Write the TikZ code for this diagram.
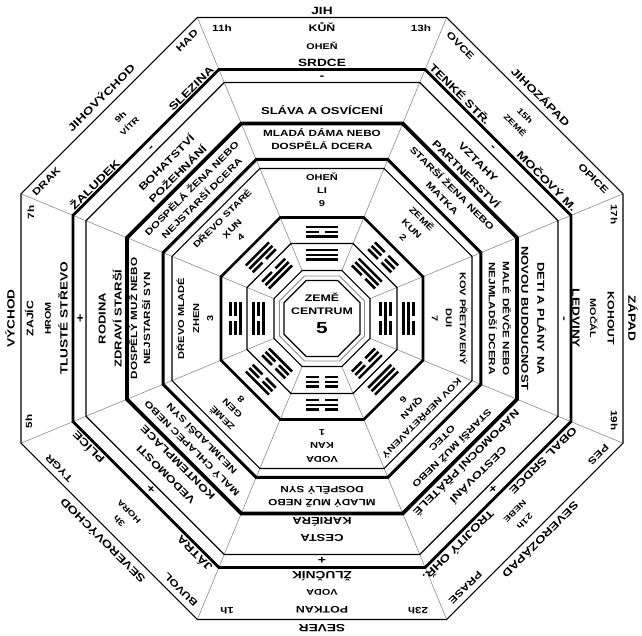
\documentclass[tikz,border=0pt]{standalone}
\usepackage{fontspec}
\newfontfamily\lab{Liberation Sans}[FakeStretch=1.3]
\newcommand\fs[1]{\lab\bfseries\fontsize{#1}{#1}\selectfont}
\newcommand\myocta[2][]{\draw[#1] (22.5:{#2*1.0823922}) \foreach \j in {1,...,7}{ -- ({22.5+45*\j}:{#2*1.0823922})} -- cycle;}
\newcommand\trg[4]{%
  \foreach \b [count=\i] in {#2,#3,#4} {%
    \pgfmathsetmacro\yy{#1+(\i-2)*4.8}%
    \ifnum\b=1 \draw[tline] (-16.3,\yy) -- (16.3,\yy);%
    \else \draw[tline] (-16.3,\yy) -- (-2.6,\yy) (2.6,\yy) -- (16.3,\yy);\fi
  }}
\tikzset{
 lb/.style={inner sep=0pt, text depth=0pt},
 tdir/.style={lb, font=\fs{10.5}, text height=7.5pt},
 tani/.style={lb, font=\fs{9.5}, text height=6.8pt},
 thr/.style={lb, font=\fs{9}, text height=6.4pt},
 thd/.style={lb, font=\fs{8.3}, text height=5.9pt},
 tel/.style={lb, font=\fs{8.3}, text height=5.9pt},
 ted/.style={lb, font=\fs{7.8}, text height=5.6pt},
 torg/.style={lb, font=\fs{10.5}, text height=7.5pt},
 tasp/.style={lb, font=\fs{10}, text height=7.2pt},
 tfam/.style={lb, font=\fs{9}, text height=6.4pt},
 tinn/.style={lb, font=\fs{8.5}, text height=6.1pt},
 tmin/.style={lb, font=\fs{11}, text height=5.9pt},
 tplus/.style={lb, font=\fs{11}, text height=7.7pt},
 tline/.style={line width=2.6pt},
 rad/.style={black!45, line width=0.6pt},
}
\begin{document}
\begin{tikzpicture}[x=1pt,y=1pt]
\useasboundingbox (-322,-317.5) rectangle (320,318.5);
\fill[white] (-322,-317.5) rectangle (320,318.5);
% radial dividers
\foreach \i in {0,...,7} \draw[rad] ({22.5+45*\i}:{48*1.0823922}) -- ({22.5+45*\i}:{301*1.0823922});
% rings
\myocta[line width=1.1pt]{301}
\myocta[line width=2.8pt]{249}
\myocta[line width=1.1pt]{236}
\myocta[line width=3.8pt]{195}
\myocta[line width=3pt]{159}
\myocta[line width=1.1pt]{150}
\myocta[line width=2.6pt]{101}
\myocta[line width=1.2pt]{75}
\myocta[line width=1.2pt]{48}
\myocta[black!45, line width=0.9pt]{42.5}
\myocta[line width=1.3pt]{38}
% centre
\node[lb, font=\fs{9.5}, text height=6.8pt] (c1) at (0,20.5) {ZEMĚ};
\node[lb, font=\fs{9.5}, text height=6.8pt] (c2) at (0,7.5) {CENTRUM};
\node[lb, font=\fs{16}, text height=11.5pt] (c3) at (0,-9) {5};
% sector 0 : south (top)
\begin{scope}[rotate=0, transform shape]
\node[tdir] (s0d) at (0,308) {JIH};
\node[thr] (s0h1) at (-100,290) {11h};
\node[thr] (s0h2) at (99,290) {13h};
\node[tani] (s0a) at (0,290) {KŮŇ};
\node[tel] (s0e) at (0,272) {OHEŇ};
\node[torg] (s0o) at (0,256) {SRDCE};
\node[tmin] (s0s) at (0,242) {-};
\node[tasp] (s0p) at (0,208) {SLÁVA A OSVÍCENÍ};
\node[tfam] (s0f1) at (0,185) {MLADÁ DÁMA NEBO};
\node[tfam] (s0f2) at (0,172) {DOSPĚLÁ DCERA};
\node[tinn] (s0i1) at (0,141) {OHEŇ};
\node[tinn] (s0i2) at (0,128) {LI};
\node[tinn] (s0i3) at (0,115) {9};
\trg{86.5}{1}{0}{1}
\trg{63.5}{1}{1}{1}
\end{scope}
% sector 1 : south-west (top right)
\begin{scope}[rotate=-45, transform shape]
\node[tdir] (s1d) at (-2,311) {JIHOZÁPAD};
\node[tani] (s1a1) at (-95,291) {OVCE};
\node[tani] (s1a2) at (93,291) {OPICE};
\node[thd] (s1h) at (0,287) {15h};
\node[ted] (s1e) at (0,273) {ZEMĚ};
\node[torg] (s1o1) at (-61,256) {TENKÉ STŘ.};
\node[torg] (s1o2) at (62,256) {MOČOVÝ M.};
\node[tmin] (s1s) at (0,242) {-};
\node[tasp] (s1p1) at (0,221) {VZTAHY};
\node[tasp] (s1p2) at (0,204) {PARTNERSTVÍ};
\node[tfam] (s1f1) at (0,184) {STARŠÍ ŽENA NEBO};
\node[tfam] (s1f2) at (0,170) {MATKA};
\node[tinn] (s1i1) at (0,141) {ZEMĚ};
\node[tinn] (s1i2) at (0,127) {KUN};
\node[tinn] (s1i3) at (0,115) {2};
\trg{86.5}{0}{0}{0}
\trg{63.5}{0}{1}{1}
\end{scope}
% sector 2 : west (right)
\begin{scope}[rotate=-90, transform shape]
\node[tdir] (s2d) at (0,310) {ZÁPAD};
\node[thr] (s2h1) at (-104,292) {17h};
\node[thr] (s2h2) at (102,292) {19h};
\node[tani] (s2a) at (0,289) {KOHOUT};
\node[tel] (s2e) at (0,271) {MOČÁL};
\node[torg] (s2o) at (0,254) {LEDVINY};
\node[tmin] (s2s) at (0,242) {-};
\node[tasp] (s2p1) at (0,219) {DETI A PLÁNY NA};
\node[tasp] (s2p2) at (0,203) {NOVOU BUDOUCNOST};
\node[tfam] (s2f1) at (0,184) {MALÉ DĚVČE NEBO};
\node[tfam] (s2f2) at (0,170) {NEJMLADŠÍ DCERA};
\node[tinn] (s2i1) at (0,141) {KOV PŘETAVENÝ};
\node[tinn] (s2i2) at (0,127) {DUI};
\node[tinn] (s2i3) at (0,113) {7};
\trg{86.5}{1}{1}{0}
\trg{63.5}{0}{1}{0}
\end{scope}
% sector 3 : north-west (bottom right)
\begin{scope}[rotate=-135, transform shape]
\node[tdir] (s3d) at (2,311) {SEVEROZÁPAD};
\node[tani] (s3a1) at (-99,292) {PES};
\node[tani] (s3a2) at (89,292) {PRASE};
\node[thd] (s3h) at (0,287) {21h};
\node[ted] (s3e) at (0,273) {NEBE};
\node[torg] (s3o1) at (-56,257) {OBAL SRDCE};
\node[torg] (s3o2) at (64,257) {TROJITÝ OHŘ.};
\node[tplus] (s3s) at (0,242) {+};
\node[tasp] (s3p1) at (0,221) {CESTOVÁNÍ};
\node[tasp] (s3p2) at (0,204) {NÁPOMOCNÍ PŘÁTELÉ};
\node[tfam] (s3f1) at (0,184) {STARŠÍ MUŽ NEBO};
\node[tfam] (s3f2) at (0,170) {OTEC};
\node[tinn] (s3i1) at (0,141) {KOV NEPŘETAVENÝ};
\node[tinn] (s3i2) at (0,127) {QIAN};
\node[tinn] (s3i3) at (0,115) {6};
\trg{86.5}{1}{1}{1}
\trg{63.5}{0}{0}{1}
\end{scope}
% sector 4 : north (bottom)
\begin{scope}[rotate=-180, transform shape]
\node[tdir] (s4d) at (0,310) {SEVER};
\node[thr] (s4h1) at (-96,292) {23h};
\node[thr] (s4h2) at (95,292) {1h};
\node[tani] (s4a) at (0,291) {POTKAN};
\node[tel] (s4e) at (0,274) {VODA};
\node[torg] (s4o) at (0,257) {ŽLUČNÍK};
\node[tplus] (s4s) at (0,242) {+};
\node[tasp] (s4p1) at (0,220) {CESTA};
\node[tasp] (s4p2) at (0,203) {KARIÉRA};
\node[tfam] (s4f1) at (0,184) {MLADÝ MUŽ NEBO};
\node[tfam] (s4f2) at (0,171) {DOSPĚLÝ SYN};
\node[tinn] (s4i1) at (0,141) {VODA};
\node[tinn] (s4i2) at (0,127) {KAN};
\node[tinn] (s4i3) at (0,114) {1};
\trg{86.5}{0}{1}{0}
\trg{63.5}{0}{0}{0}
\end{scope}
% sector 5 : north-east (bottom left)
\begin{scope}[rotate=-225, transform shape]
\node[tdir] (s5d) at (-2,312) {SEVEROVÝCHOD};
\node[tani] (s5a1) at (-92,292) {BUVOL};
\node[tani] (s5a2) at (80,292) {TYGR};
\node[thd] (s5h) at (0,287) {3h};
\node[ted] (s5e) at (0,273) {HORA};
\node[torg] (s5o1) at (-76,256) {JÁTRA};
\node[torg] (s5o2) at (74,256) {PLÍCE};
\node[tplus] (s5s) at (0,242) {+};
\node[tasp] (s5p1) at (0,221) {VEDOMOSTI};
\node[tasp] (s5p2) at (0,204) {KONTEMPLACE};
\node[tfam] (s5f1) at (0,184) {MALÝ CHLAPEC NEBO};
\node[tfam] (s5f2) at (0,170) {NEJMLADŠÍ SYN};
\node[tinn] (s5i1) at (0,141) {ZEMĚ};
\node[tinn] (s5i2) at (0,127) {GEN};
\node[tinn] (s5i3) at (0,115) {8};
\trg{86.5}{0}{0}{1}
\trg{63.5}{1}{0}{0}
\end{scope}
% sector 6 : east (left)
\begin{scope}[rotate=-270, transform shape]
\node[tdir] (s6d) at (0,311) {VÝCHOD};
\node[thr] (s6h1) at (-103,293) {5h};
\node[thr] (s6h2) at (106,291) {7h};
\node[tani] (s6a) at (0,292) {ZAJÍC};
\node[tel] (s6e) at (0,274) {HROM};
\node[torg] (s6o) at (0,258) {TLUSTÉ STŘEVO};
\node[tplus] (s6s) at (0,242) {+};
\node[tasp] (s6p1) at (0,220) {RODINA};
\node[tasp] (s6p2) at (0,204) {ZDRAVÍ STARŠÍ};
\node[tfam] (s6f1) at (0,188) {DOSPĚLÝ MUŽ NEBO};
\node[tfam] (s6f2) at (0,175) {NEJSTARŠÍ SYN};
\node[tinn] (s6i1) at (0,141) {DŘEVO MLADÉ};
\node[tinn] (s6i2) at (0,126) {ZHEN};
\node[tinn] (s6i3) at (0,112) {3};
\trg{86.5}{1}{0}{0}
\trg{63.5}{1}{0}{1}
\end{scope}
% sector 7 : south-east (top left)
\begin{scope}[rotate=-315, transform shape]
\node[tdir] (s7d) at (0,312) {JIHOVÝCHOD};
\node[tani] (s7a1) at (-98,292) {DRAK};
\node[tani] (s7a2) at (101,292) {HAD};
\node[thd] (s7h) at (0,285) {9h};
\node[ted] (s7e) at (0,272) {VÍTR};
\node[torg] (s7o1) at (-66,255) {ŽALUDEK};
\node[torg] (s7o2) at (70,255) {SLEZINA};
\node[tmin] (s7s) at (0,242) {-};
\node[tasp] (s7p1) at (0,220) {BOHATSTVÍ};
\node[tasp] (s7p2) at (0,204) {POŽEHNÁNÍ};
\node[tfam] (s7f1) at (0,184) {DOSPĚLÁ ŽENA NEBO};
\node[tfam] (s7f2) at (0,170) {NEJSTARŠÍ DCERA};
\node[tinn] (s7i1) at (0,141) {DŘEVO STARÉ};
\node[tinn] (s7i2) at (0,127) {XUN};
\node[tinn] (s7i3) at (0,115) {4};
\trg{86.5}{0}{1}{1}
\trg{63.5}{1}{1}{0}
\end{scope}
\end{tikzpicture}
\end{document}
